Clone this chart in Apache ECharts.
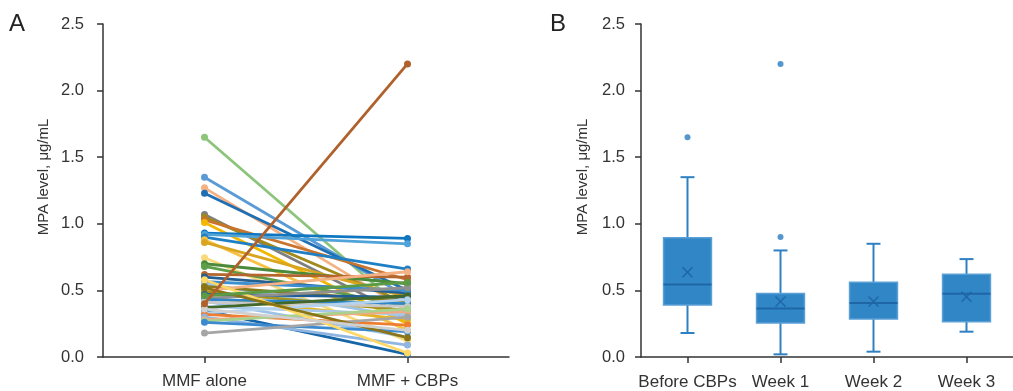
<!DOCTYPE html>
<html><head><meta charset="utf-8">
<script src="https://cdn.jsdelivr.net/npm/echarts@6/dist/echarts.min.js"></script>
<style>html,body{margin:0;padding:0;background:#fff}#c{width:1013px;height:391px}</style>
</head><body><div id="c"></div>
<script>
// ---- Data ----
const pairCategories = ['MMF alone', 'MMF + CBPs'];
const mmfAlone = [1.65,1.35,1.27,1.23,1.07,1.05,1.03,1.01,0.93,0.92,0.90,0.88,0.86,0.745,0.70,0.68,0.62,0.60,0.565,0.55,0.53,0.50,0.49,0.47,0.45,0.44,0.43,0.42,0.41,0.40,0.38,0.37,0.35,0.33,0.32,0.30,0.28,0.27,0.26,0.18,0.58,0.52,0.46,0.36];
const mmfCbps  = [0.33,0.45,0.35,0.50,0.30,0.40,0.58,0.25,0.89,0.85,0.66,0.20,0.45,0.12,0.55,0.38,0.60,0.48,0.50,0.30,0.42,0.64,0.35,0.45,0.28,0.52,0.40,0.15,0.38,2.20,0.32,0.46,0.02,0.43,0.24,0.09,0.34,0.36,0.19,0.30,0.03,0.145,0.56,0.20];
const lineColors = ['#8cc47a','#5b9bd5','#f4b183','#1f6fb2','#7f7f7f','#a08a1c','#c8742e','#f2b800','#0e77c0','#4fa3d8','#1f7fc4','#f5c243','#d9a520','#fad97a','#4a8a3a','#5f9e49','#b5652e','#255e91','#3d8fd0','#9dc3e6','#8a7a1a','#f4b183','#a6931f','#1e5c96','#e6b422','#8f8f8f','#2e86c8','#9dc3e6','#c9c9c9','#b0612b','#a8c8e8','#43682b','#1766a8','#b4d3ee','#ed7d31','#8fb5e0','#f1a983','#a9d18e','#3b8ad0','#a5a5a5','#ffd966','#8a7416','#5c9a46','#d0d0d0'];

const boxCategories = ['Before CBPs','Week 1','Week 2','Week 3'];
const boxMin    = [0.18, 0.02, 0.04, 0.19];
const boxQ1     = [0.39, 0.255, 0.285, 0.265];
const boxMedian = [0.545, 0.365, 0.405, 0.475];
const boxQ3     = [0.895, 0.477, 0.562, 0.622];
const boxMax    = [1.35, 0.80, 0.85, 0.735];
const boxMean   = [0.636, 0.416, 0.416, 0.452];
const outlierCat = [0, 1, 1];
const outlierVal = [1.65, 2.20, 0.90];

const yTicks = [0, 0.5, 1.0, 1.5, 2.0, 2.5];

// ---- Chart ----
const chart = echarts.init(document.getElementById('c'), null, {renderer:'canvas'});
const font = 'Liberation Sans, Arial, Helvetica, sans-serif';
const axisCol = '#333';

function yAxisCfg(gi, margin){
  return {
    type:'value', gridIndex:gi, min:yTicks[0], max:yTicks[yTicks.length-1], interval:0.5,
    axisLine:{show:true, lineStyle:{color:axisCol, width:1.5}},
    axisTick:{show:true, length:6, lineStyle:{color:axisCol, width:1.5}},
    axisLabel:{color:'#333', fontSize:16.5, fontFamily:font, margin:margin, formatter:v=>v.toFixed(1)},
    splitLine:{show:false}
  };
}
function xAxisCfg(gi, cats, margin){
  return {
    type:'category', gridIndex:gi, data:cats, boundaryGap:true,
    axisLine:{show:true, lineStyle:{color:axisCol, width:1.5}},
    axisTick:{show:true, alignWithLabel:true, length:6, lineStyle:{color:axisCol, width:1.5}},
    axisLabel:{color:'#333', fontSize:17, fontFamily:font, margin:margin, interval:0}
  };
}

const series = [];
for (let i=0;i<mmfAlone.length;i++){
  series.push({
    type:'line', xAxisIndex:0, yAxisIndex:0,
    data:[mmfAlone[i], mmfCbps[i]],
    symbol:'circle', symbolSize:7,
    lineStyle:{width:2.8, color:lineColors[i % lineColors.length]},
    itemStyle:{color:lineColors[i % lineColors.length]},
    z: i===29 ? 5 : 2,
    animation:false
  });
}

const boxData = boxCategories.map((c,i)=>[i, boxMin[i], boxQ1[i], boxMedian[i], boxQ3[i], boxMax[i], boxMean[i]]);
series.push({
  type:'custom', xAxisIndex:1, yAxisIndex:1,
  data: boxData,
  encode:{x:0, y:[1,2,3,4,5,6]},
  animation:false,
  renderItem:function(params, api){
    const idx = api.value(0);
    const pMin = api.coord([idx, api.value(1)]);
    const pQ1 = api.coord([idx, api.value(2)]);
    const pMed = api.coord([idx, api.value(3)]);
    const pQ3 = api.coord([idx, api.value(4)]);
    const pMax = api.coord([idx, api.value(5)]);
    const pMean = api.coord([idx, api.value(6)]);
    const bandW = api.size([1,0])[0];
    const bw = bandW*0.515, cw = bandW*0.15, mx = 5;
    const cx = pMin[0];
    const wStyle = {stroke:'#2f80c2', lineWidth:2};
    return {type:'group', children:[
      {type:'line', shape:{x1:cx,y1:pMin[1],x2:cx,y2:pQ1[1]}, style:wStyle},
      {type:'line', shape:{x1:cx,y1:pQ3[1],x2:cx,y2:pMax[1]}, style:wStyle},
      {type:'line', shape:{x1:cx-cw/2,y1:pMin[1],x2:cx+cw/2,y2:pMin[1]}, style:wStyle},
      {type:'line', shape:{x1:cx-cw/2,y1:pMax[1],x2:cx+cw/2,y2:pMax[1]}, style:wStyle},
      {type:'rect', shape:{x:cx-bw/2, y:pQ3[1], width:bw, height:pQ1[1]-pQ3[1]}, style:{fill:'#3186c6', stroke:'#5a9fd6', lineWidth:1.5}},
      {type:'line', shape:{x1:cx-bw/2,y1:pMed[1],x2:cx+bw/2,y2:pMed[1]}, style:{stroke:'#1f66a6', lineWidth:2}},
      {type:'line', shape:{x1:cx-mx,y1:pMean[1]-mx,x2:cx+mx,y2:pMean[1]+mx}, style:{stroke:'#1f66a6', lineWidth:1.5}},
      {type:'line', shape:{x1:cx-mx,y1:pMean[1]+mx,x2:cx+mx,y2:pMean[1]-mx}, style:{stroke:'#1f66a6', lineWidth:1.5}}
    ]};
  }
});
series.push({
  type:'scatter', xAxisIndex:1, yAxisIndex:1,
  data: outlierCat.map((c,i)=>[c, outlierVal[i]]),
  symbol:'circle', symbolSize:6, itemStyle:{color:'#2a7cc0'}, animation:false
});

chart.setOption({
  backgroundColor:'#fff',
  animation:false,
  grid:[
    {left:103, top:24, width:406, height:333},
    {left:641, top:24, width:380, height:334}
  ],
  xAxis:[xAxisCfg(0, pairCategories, 16), xAxisCfg(1, boxCategories, 17)],
  yAxis:[yAxisCfg(0, 19), yAxisCfg(1, 16)],
  graphic:[
    {type:'text', left:9, top:12, style:{text:'A', fontSize:24, fontFamily:font, fill:'#222'}},
    {type:'text', left:550, top:12, style:{text:'B', fontSize:24, fontFamily:font, fill:'#222'}},
    {type:'text', x:44, y:177, rotation:Math.PI/2, style:{text:'MPA level, μg/mL', fontSize:15, fontFamily:font, fill:'#333', align:'center', verticalAlign:'middle'}},
    {type:'text', x:583, y:177, rotation:Math.PI/2, style:{text:'MPA level, μg/mL', fontSize:15, fontFamily:font, fill:'#333', align:'center', verticalAlign:'middle'}}
  ],
  series: series
});
</script>
</body></html>
